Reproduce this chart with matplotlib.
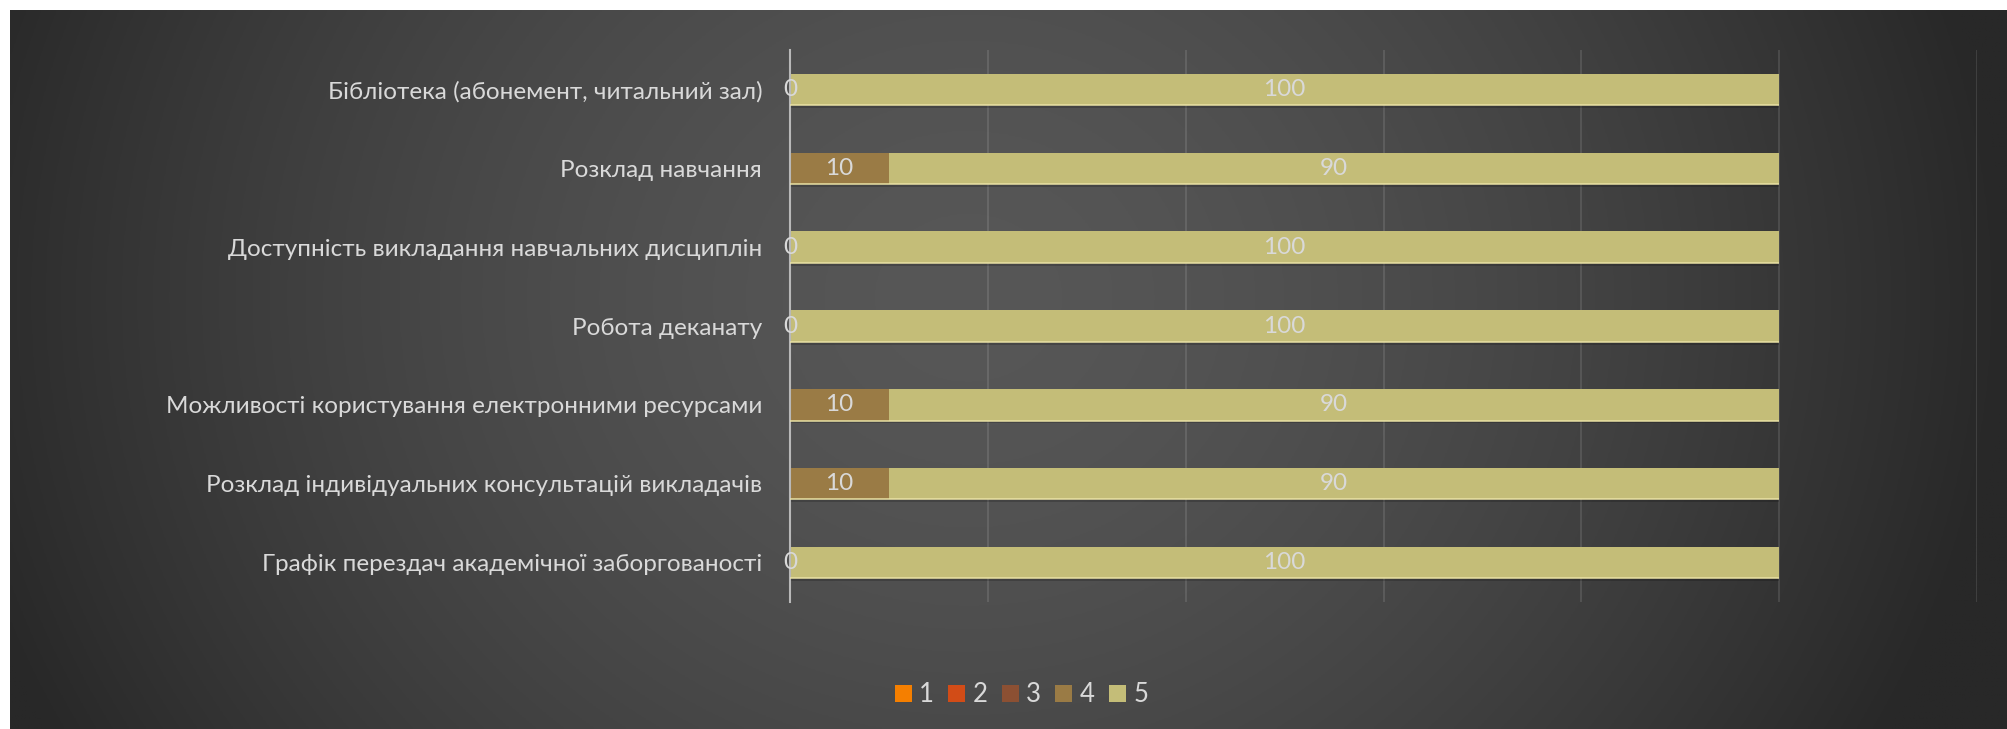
import numpy as np
import matplotlib.pyplot as plt
from matplotlib.patches import Patch

plt.rcParams['font.family'] = ['Lato', 'DejaVu Sans']

# categories listed bottom -> top (as the chart draws them)
categories = [
    'Графік перездач академічної заборгованості',
    'Розклад індивідуальних консультацій викладачів',
    'Можливості користування електронними ресурсами',
    'Робота деканату',
    'Доступність викладання навчальних дисциплін',
    'Розклад навчання',
    'Бібліотека (абонемент, читальний зал)',
]
series_names = ['1', '2', '3', '4', '5']
s1 = [0, 0, 0, 0, 0, 0, 0]
s2 = [0, 0, 0, 0, 0, 0, 0]
s3 = [0, 0, 0, 0, 0, 0, 0]
s4 = [0, 10, 10, 0, 0, 10, 0]
s5 = [100, 90, 90, 100, 100, 90, 100]
colors = ['#f57f00', '#d24c17', '#8c5033', '#9a7b45', '#c4bd78']
labelled = [False, False, False, True, True]

W, H = 2007, 729
fig = plt.figure(figsize=(W / 100, H / 100), dpi=100, facecolor='white')

# radial-ish dark gradient background with thin white margin top/left
bg = fig.add_axes([10 / W, 0, 1 - 10 / W, 1 - 10 / H], zorder=-10)
u = np.linspace(0, 1, 600)
v = np.linspace(0, 1, 250)
U, V = np.meshgrid(u, v)
r = np.sqrt(((U - 0.48) / 0.52) ** 2 + ((V - 0.6) / 1.3) ** 2)
r = np.clip(r, 0, 1)
g = (0x57 - (0x57 - 0x28) * r ** 1.6) / 255
img = np.dstack([g, g, g])
bg.imshow(img, aspect='auto', extent=[0, 1, 0, 1], origin='lower')
bg.axis('off')

ax = fig.add_axes([790 / W, 1 - 602 / H, (1977 - 790) / W, (602 - 50) / H])
ax.set_facecolor('none')

fs = 17.5
y = np.arange(len(categories))
h = 0.40
left = np.zeros(len(categories))
for name, vals, c, lab in zip(series_names, [s1, s2, s3, s4, s5], colors, labelled):
    vals = np.array(vals, dtype=float)
    # soft drop shadow
    ax.barh(y - 0.035, vals, h, left=left, color='black', alpha=0.18, zorder=1, lw=0)
    bars = ax.barh(y, vals, h, left=left, color=c, zorder=2, lw=0)
    ax.hlines(y - h / 2, left, left + vals, color='#ebe3a6', lw=1.2, zorder=3,
              alpha=0.9 if vals.any() else 0)
    if lab:
        ax.bar_label(bars, labels=[f'{int(x)}' for x in vals], label_type='center',
                     color='#d9d9d9', fontsize=fs, zorder=4)
    left += vals

ax.set_xlim(0, 120)
ax.set_ylim(-0.5, len(categories) - 0.5)
ax.set_xticks(np.arange(0, 121, 20))
ax.set_xticklabels([])
ax.xaxis.grid(True, color='white', alpha=0.13, lw=1.2)
ax.set_axisbelow(True)
ax.set_yticks(y)
ax.set_yticklabels(categories)
ax.tick_params(axis='y', length=0, pad=20, labelcolor='#d9d9d9', labelsize=fs)
ax.tick_params(axis='x', length=0)
for s in ['top', 'right', 'bottom']:
    ax.spines[s].set_visible(False)
ax.spines['left'].set_color('#b8b8b8')
ax.spines['left'].set_linewidth(1.5)

handles = [Patch(facecolor=c, edgecolor='none') for c in colors]
fig.legend(handles, series_names, loc='center', bbox_to_anchor=(0.509, 0.047),
           ncol=5, frameon=False, fontsize=18.5, labelcolor='#d9d9d9',
           handlelength=0.65, handleheight=0.65, handletextpad=0.3, columnspacing=0.55)

fig.savefig('out.png', dpi=100, facecolor='white')
